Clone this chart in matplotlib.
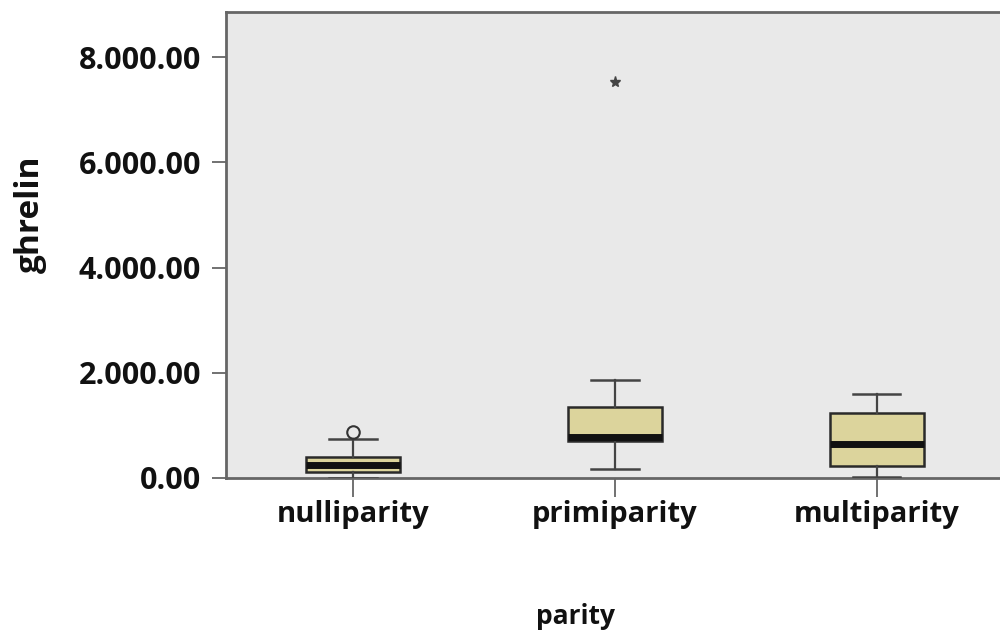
import matplotlib
matplotlib.use("Agg")
import matplotlib.pyplot as plt
from matplotlib.ticker import FuncFormatter

categories = ["nulliparity", "primiparity", "multiparity"]
whisker_low = [0, 170, 20]
q1 = [115, 700, 230]
median = [250, 780, 650]
q3 = [400, 1350, 1240]
whisker_high = [740, 1860, 1600]
outliers_circle = [[875], [], []]
outliers_star = [[], [7530], []]

yticks = [0, 2000, 4000, 6000, 8000]

plt.rcParams['font.family'] = ['Open Sans', 'DejaVu Sans']
plt.rcParams['font.weight'] = 'bold'

fig = plt.figure(figsize=(10, 6.42), dpi=100)
ax = fig.add_axes([0.226, 0.2555, 0.774, 0.7259])
ax.set_facecolor('#E9E9E9')

stats = []
for i, c in enumerate(categories):
    stats.append(dict(label=c, whislo=whisker_low[i], q1=q1[i], med=median[i],
                      q3=q3[i], whishi=whisker_high[i], fliers=outliers_circle[i]))

positions = list(range(1, len(categories) + 1))
ax.bxp(stats, positions=positions, widths=0.36, patch_artist=True,
       boxprops=dict(facecolor='#DCD49C', edgecolor='#2a2a2a', linewidth=1.8),
       medianprops=dict(color='#111111', linewidth=5),
       whiskerprops=dict(color='#444444', linewidth=1.6),
       capprops=dict(color='#444444', linewidth=1.8),
       capwidths=0.18,
       flierprops=dict(marker='o', markerfacecolor='none', markeredgecolor='#333333',
                       markersize=9, markeredgewidth=1.5),
       zorder=3)

for i, vals in enumerate(outliers_star):
    if vals:
        ax.plot([positions[i]] * len(vals), vals, linestyle='none', marker='*',
                color='#444444', markersize=8, zorder=4)

ax.set_xlim(0.515, 3.47)
ax.set_ylim(0, 8860)
ax.set_yticks(yticks)
ax.yaxis.set_major_formatter(FuncFormatter(
    lambda v, p: f"{v:,.2f}".replace(",", ".")))
ax.set_xticks(positions)
ax.set_xticklabels(categories)

for s in ['left', 'top', 'right', 'bottom']:
    ax.spines[s].set_color('#666666')
    ax.spines[s].set_linewidth(2)
ax.spines['right'].set_visible(False)

ax.tick_params(axis='y', length=10, width=1.3, color='#666666', pad=8,
               labelsize=22, labelcolor='#111111')
ax.tick_params(axis='x', length=14, width=1.3, color='#666666', pad=2,
               labelsize=21, labelcolor='#111111')

fig.text(0.03, 1 - 214 / 642, 'ghrelin', rotation=90, ha='center', va='center',
         fontsize=24, fontweight='bold', color='#111111')
fig.text(0.576, 1 - 617 / 642, 'parity', ha='center', va='center',
         fontsize=19, fontweight='bold', color='#111111')

fig.savefig('out.png', dpi=100)
